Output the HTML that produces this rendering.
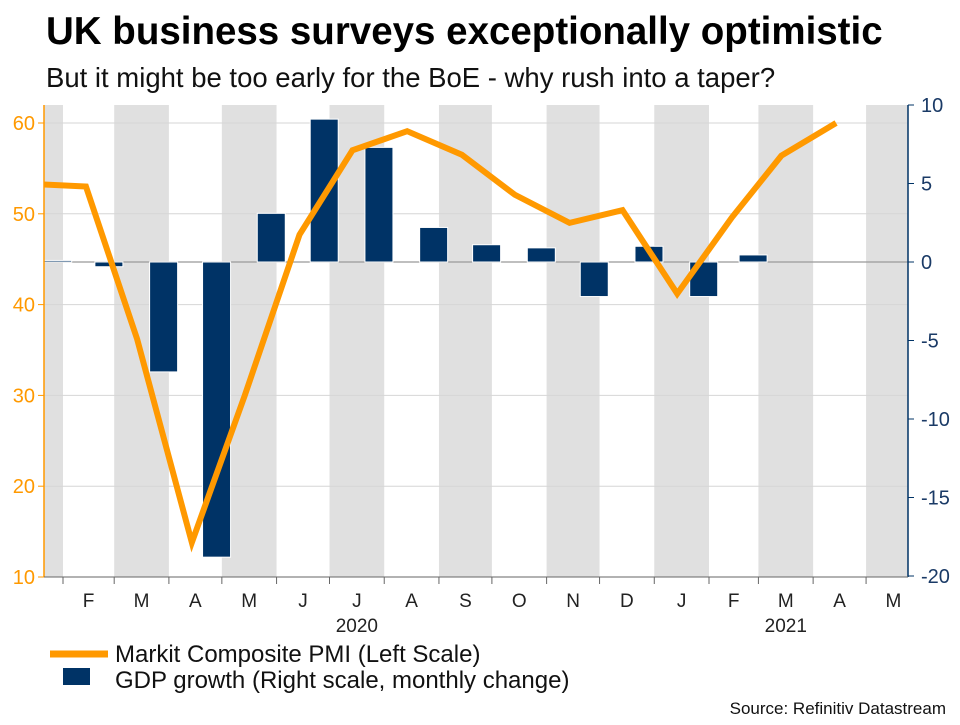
<!DOCTYPE html>
<html><head><meta charset="utf-8"><style>
body{margin:0;background:#fff;font-family:"Liberation Sans",Arial,sans-serif;}
svg text{font-family:"Liberation Sans",Arial,sans-serif;}
</style></head><body>
<svg id="c" width="960" height="720" xmlns="http://www.w3.org/2000/svg">
<text x="46" y="44" font-size="38.5" font-weight="bold" fill="#000">UK business surveys exceptionally optimistic</text>
<text x="46" y="87" font-size="27.5" fill="#111">But it might be too early for the BoE - why rush into a taper?</text>
<defs><clipPath id="pc"><rect x="44" y="100" width="864" height="480"/></clipPath></defs>
<g id="bands"></g><g id="grid"></g><g id="bars"></g><g id="line" clip-path="url(#pc)"></g><g id="axes"></g>
<line x1="50" y1="654" x2="108" y2="654" stroke="#f90" stroke-width="7"/>
<text x="115" y="662" font-size="24" fill="#111">Markit Composite PMI (Left Scale)</text>
<rect x="63" y="668" width="27" height="17" fill="#003366"/>
<text x="115" y="688" font-size="24" fill="#111">GDP growth (Right scale, monthly change)</text>
<text x="946" y="714" font-size="17" fill="#111" text-anchor="end">Source: Refinitiv Datastream</text>
</svg>
<script>
const months = ["2020-01","2020-02","2020-03","2020-04","2020-05","2020-06","2020-07","2020-08","2020-09","2020-10","2020-11","2020-12","2021-01","2021-02","2021-03","2021-04","2021-05"];
const monthLabels = ["J","F","M","A","M","J","J","A","S","O","N","D","J","F","M","A","M"];
const pmiMonths = ["2020-01","2020-02","2020-03","2020-04","2020-05","2020-06","2020-07","2020-08","2020-09","2020-10","2020-11","2020-12","2021-01","2021-02","2021-03","2021-04"];
const pmiValues = [53.3,53.0,36.2,13.8,30.0,47.7,57.0,59.1,56.5,52.1,49.0,50.4,41.2,49.6,56.4,60.0];
const gdpMonths = ["2020-01","2020-02","2020-03","2020-04","2020-05","2020-06","2020-07","2020-08","2020-09","2020-10","2020-11","2020-12","2021-01","2021-02"];
const gdpValues = [0.1,-0.3,-7.0,-18.8,3.1,9.1,7.3,2.2,1.1,0.9,-2.2,1.0,-2.2,0.45];
const leftTicks = [10,20,30,40,50,60];
const rightTicks = [-20,-15,-10,-5,0,5,10];
const yearLabels = [["2020-07","2020"],["2021-03","2021"]];

const NS="http://www.w3.org/2000/svg";
const X0=44,X1=908,T0=Date.UTC(2020,1,1),PX=63,PPD=1.765;
function dayX(d){return PX+(d-T0)/864e5*PPD;}
function mStart(m){const [y,mo]=m.split("-").map(Number);return Date.UTC(y,mo-1,1);}
function mEnd(m){const [y,mo]=m.split("-").map(Number);return Date.UTC(y,mo,1);}
function yL(v){return 577-(v-10)*9.08;}
function yR(v){return 262-v*15.7;}
function el(t,a,p){const e=document.createElementNS(NS,t);for(const k in a)e.setAttribute(k,a[k]);document.getElementById(p).appendChild(e);return e;}
const TOP=105,BOT=577;
months.forEach((m,i)=>{
  const a=Math.max(X0,dayX(mStart(m))),b=Math.min(X1,dayX(mEnd(m)));
  if(i%2===0){const r=el("rect",{x:a,y:TOP,width:b-a,height:BOT-TOP,fill:"#e0e0e0"},"bands");
    
    }
  const cx=(dayX(mStart(m))+dayX(mEnd(m)))/2;
  const t=el("text",{x:cx,y:607,"font-size":19,fill:"#222","text-anchor":"middle"},"axes");t.textContent=(i===0?"":monthLabels[i]);
  
  
  if(i>0){const tk=el("line",{x1:dayX(mStart(m)),x2:dayX(mStart(m)),y1:BOT,y2:BOT+7,stroke:"#666"},"axes");
    
    }
});
yearLabels.forEach(([m,l])=>{const x=(dayX(mStart(m))+dayX(mEnd(m)))/2;const t=el("text",{x:x,y:632,"font-size":19,fill:"#222","text-anchor":"middle"},"axes");t.textContent=l;
  
  });
leftTicks.forEach(v=>{
  if(v>10){const g=el("line",{x1:X0,x2:X1,y1:yL(v),y2:yL(v),stroke:"#d6d6d6"},"grid");
    
    }
  const tk=el("line",{x1:X0-6,x2:X0,y1:yL(v),y2:yL(v),stroke:"#f90"},"axes");
  
  
  const t=el("text",{x:X0-9,y:yL(v)+7,"font-size":20,fill:"#f90","text-anchor":"end"},"axes");t.textContent=v;
  
  
});
rightTicks.forEach(v=>{
  const tk=el("line",{x1:X1,x2:X1+6,y1:yR(v),y2:yR(v),stroke:"#003366"},"axes");
  
  
  const t=el("text",{x:X1+13,y:yR(v)+7,"font-size":20,fill:"#1a3a66"},"axes");t.textContent=v;
  
  
});
const zl=el("line",{x1:X0,x2:X1,y1:yR(0),y2:yR(0),stroke:"#999","stroke-width":1.2},"grid");


const la=el("line",{x1:X0,x2:X0,y1:TOP,y2:BOT,stroke:"#f90","stroke-width":1.5},"axes");


const ra=el("line",{x1:X1,x2:X1,y1:TOP,y2:BOT,stroke:"#003366","stroke-width":1.5},"axes");


const xa=el("line",{x1:X0,x2:X1,y1:BOT,y2:BOT,stroke:"#666"},"axes");


gdpMonths.forEach((m,i)=>{
  const c=dayX(mEnd(m)-3*864e5),v=gdpValues[i];
  const y=Math.min(yR(0),yR(v)),h=Math.abs(yR(v)-yR(0));
  const r=el("rect",{x:c-14,y:y,width:28,height:Math.max(h,1),fill:"#003366",stroke:"#fff","stroke-width":1},"bars");
  
  
});
const pts=pmiMonths.map((m,i)=>[dayX(mStart(m)+13*864e5),yL(pmiValues[i])]);
const pl=el("polyline",{points:pts.map(p=>p.join(",")).join(" "),fill:"none",stroke:"#f90","stroke-width":6,"stroke-linejoin":"miter"},"line");


</script>
</body></html>
